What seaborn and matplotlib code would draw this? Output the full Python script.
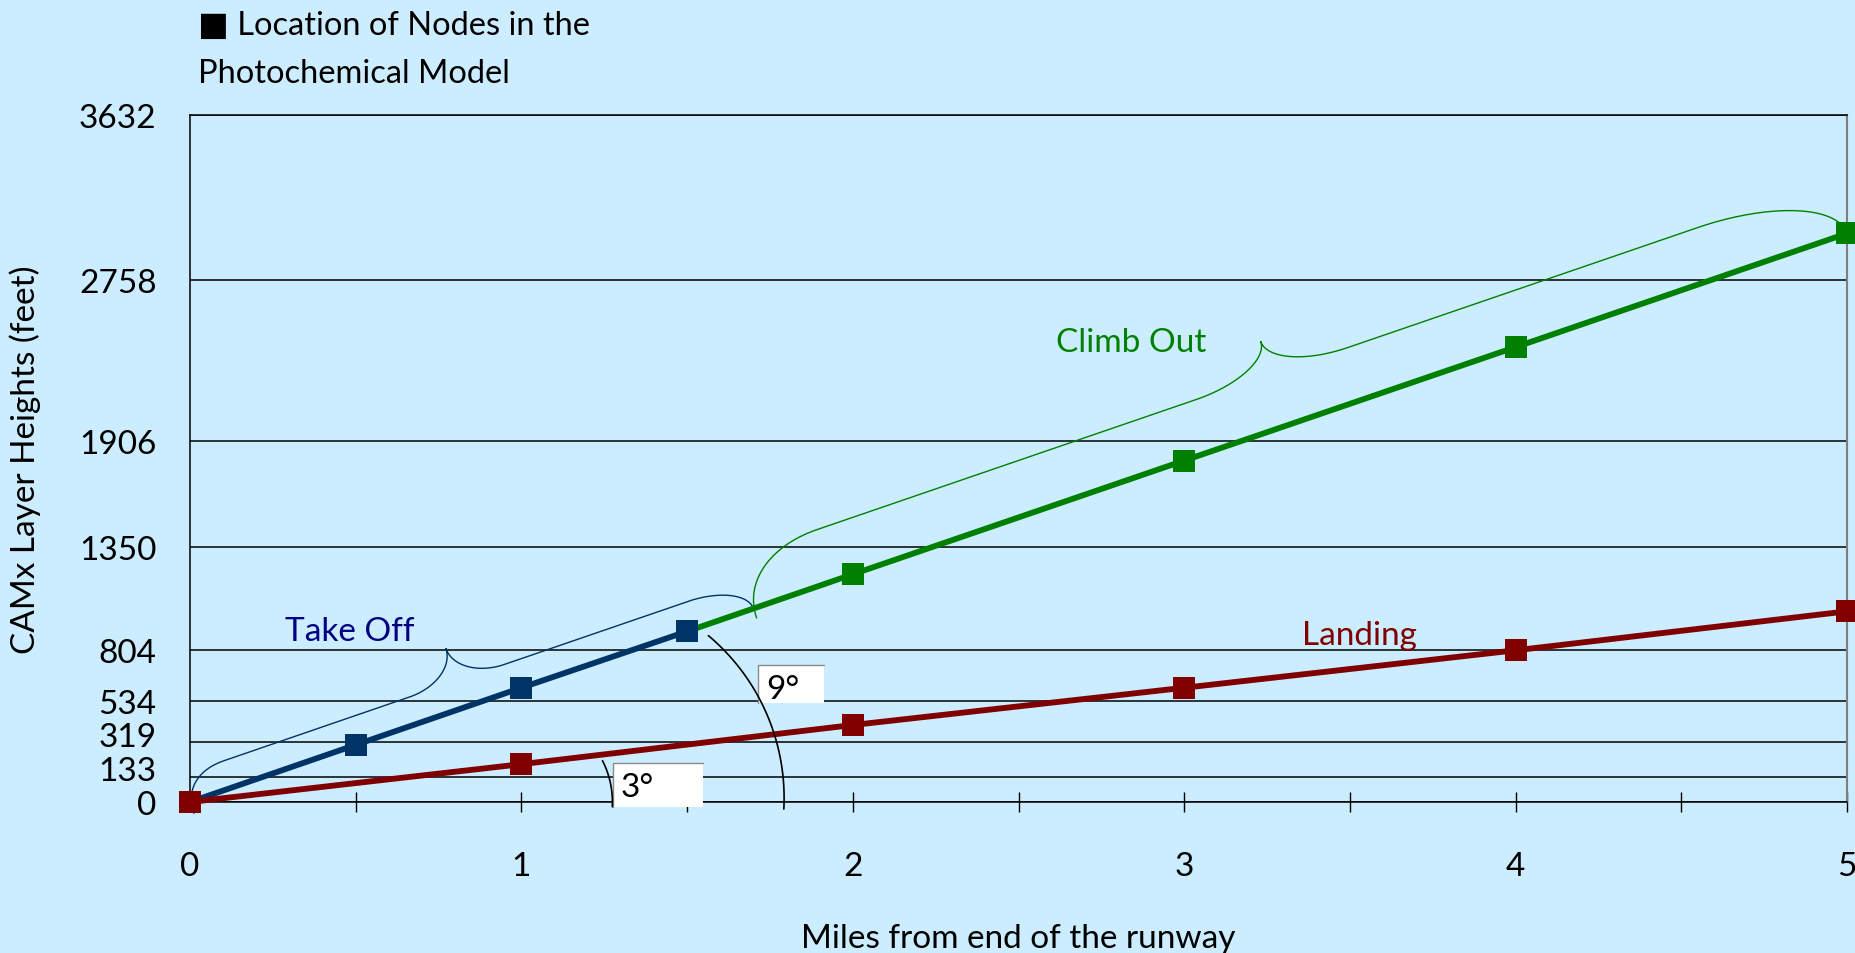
import numpy as np
import pandas as pd
import matplotlib
matplotlib.use('Agg')
import matplotlib.pyplot as plt
from matplotlib.patches import Rectangle
from matplotlib.transforms import ScaledTranslation
import seaborn as sns

# ---------------- data ----------------
takeoff_x = [0, 0.5, 1, 1.5]
takeoff_y = [0, 302, 604, 902]
climb_x = [1.5, 2, 3, 4, 5]
climb_y = [902, 1204, 1805, 2405, 3006]
landing_x = [0, 1, 2, 3, 4, 5]
landing_y = [0, 200, 407, 604, 802, 1008]
layer_ticks = [0, 133, 319, 534, 804, 1350, 1906, 2758, 3632]
mile_ticks = [0, 1, 2, 3, 4, 5]
series_names = ['Climb Out', 'Take Off', 'Landing']
series_colors = ['#008000', '#003366', '#800000']
label_colors = {'Take Off': '#000080', 'Climb Out': '#008000', 'Landing': '#800000'}

BG = '#CCECFF'
sns.set_style('white')
plt.rcParams['font.family'] = ['Lato', 'DejaVu Sans']

df = pd.concat([
    pd.DataFrame({'miles': climb_x, 'feet': climb_y, 'segment': 'Climb Out'}),
    pd.DataFrame({'miles': takeoff_x, 'feet': takeoff_y, 'segment': 'Take Off'}),
    pd.DataFrame({'miles': landing_x, 'feet': landing_y, 'segment': 'Landing'}),
], ignore_index=True)

W, H = 1856, 954
fig = plt.figure(figsize=(W / 100, H / 100), dpi=100, facecolor=BG)
L_, R_, T_, B_ = 190, 1847, 116, 803
ax = fig.add_axes([L_ / W, 1 - B_ / H, (R_ - L_) / W, (B_ - T_) / H])
ax.set_facecolor(BG)
ax.set_xlim(0, 5)
ax.set_ylim(0, 3632)

sns.lineplot(data=df, x='miles', y='feet', hue='segment', hue_order=series_names,
             palette=dict(zip(series_names, series_colors)), estimator=None, sort=False,
             marker='s', markersize=15.5, markeredgewidth=0, linewidth=4.2,
             legend=False, clip_on=False, zorder=3, ax=ax)

# ---------------- axes styling ----------------
ax.set_yticks(layer_ticks)
ax.set_yticklabels([str(v) for v in layer_ticks])
ax.set_xticks(mile_ticks)
ax.set_xticklabels([str(v) for v in mile_ticks])
ax.set_xticks(np.arange(0.5, 5, 1.0), minor=True)
ax.tick_params(axis='y', which='both', length=0, pad=24, labelsize=24, labelcolor='black')
ax.tick_params(axis='x', which='both', direction='inout', length=14.4, width=1.0,
               color='black', pad=28, labelsize=24, labelcolor='black', bottom=True)
ax.yaxis.grid(True, color='black', linewidth=1.1)
ax.xaxis.grid(False)
ax.set_axisbelow(True)
for s in ['left', 'bottom', 'top']:
    ax.spines[s].set_color('black')
    ax.spines[s].set_linewidth(1.1)
ax.spines['right'].set_color('#7f7f7f')
ax.spines['right'].set_linewidth(1.5)

# nudge the two crowded low labels upward a little, as in the original
label_nudge_px = {133: 9, 319: 8}
for tick, val in zip(ax.yaxis.get_major_ticks(), layer_ticks):
    if val in label_nudge_px:
        lab = tick.label1
        lab.set_transform(lab.get_transform() +
                          ScaledTranslation(0, label_nudge_px[val] / 100, fig.dpi_scale_trans))

ax.set_xlabel('Miles from end of the runway', fontsize=24, color='black')
ax.xaxis.set_label_coords(0.5, (B_ - 948) / (B_ - T_))
ax.xaxis.label.set_va('baseline')
ax.set_ylabel('CAMx Layer Heights (feet)', fontsize=24, color='black')
ax.yaxis.set_label_coords((25 - L_) / (R_ - L_), 0.5)
ax.yaxis.label.set_va('center')

fig.text(198 / W, 1 - 35 / H, '\u25A0 Location of Nodes in the', fontsize=23.5, va='baseline', color='black')
fig.text(198 / W, 1 - 83 / H, 'Photochemical Model', fontsize=23.5, va='baseline', color='black')

# ---------------- annotation helpers ----------------
def cubic(p0, p1, p2, p3, n=40):
    t = np.linspace(0, 1, n)[:, None]
    return (1 - t) ** 3 * p0 + 3 * (1 - t) ** 2 * t * p1 + 3 * (1 - t) * t ** 2 * p2 + t ** 3 * p3


def brace(a, b, h, hc, c, r0, r1, rc, e0, color, lw):
    A = ax.transData.transform(a)
    Bp = ax.transData.transform(b)
    d = Bp - A
    Ln = np.hypot(*d)
    eu = d / Ln
    ev = np.array([-eu[1], eu[0]])
    cL = c * Ln
    P = lambda u, v: np.array([u, v], float)
    segs = [
        cubic(P(0, -e0), P(0, 0.55 * h), P(0.45 * r0, h), P(r0, h)),
        np.array([[r0, h], [cL - rc, h]]),
        cubic(P(cL - rc, h), P(cL - 0.45 * rc, h), P(cL, h + 0.45 * (hc - h)), P(cL, hc)),
        cubic(P(cL, hc), P(cL, h + 0.45 * (hc - h)), P(cL + 0.45 * rc, h), P(cL + rc, h)),
        np.array([[cL + rc, h], [Ln - r1, h]]),
        cubic(P(Ln - r1, h), P(Ln - 0.45 * r1, h), P(Ln, 0.55 * h), P(Ln, 0)),
    ]
    uv = np.vstack(segs)
    xy = A + uv[:, :1] * eu + uv[:, 1:2] * ev
    dd = ax.transData.inverted().transform(xy)
    ax.plot(dd[:, 0], dd[:, 1], color=color, lw=lw, clip_on=False, zorder=2)


def arc(center, r, t0, t1):
    C = ax.transData.transform(center)
    t = np.radians(np.linspace(t0, t1, 80))
    xy = C + r * np.c_[np.cos(t), np.sin(t)]
    dd = ax.transData.inverted().transform(xy)
    ax.plot(dd[:, 0], dd[:, 1], color='black', lw=1.2, clip_on=False, zorder=5)


def box(x0, x1, y0, y1):
    ax.add_patch(Rectangle((x0, y0), x1 - x0, y1 - y0, facecolor='white', edgecolor='none',
                           zorder=4, clip_on=False))
    ax.plot([x0, x0, x1], [y0, y1, y1], color='#8a8a8a', lw=1.0, zorder=4, clip_on=False)


split_x = 1.7
split_y = float(np.interp(split_x, climb_x, climb_y))
brace((takeoff_x[0], takeoff_y[0]), (split_x, split_y), h=28, hc=62, c=0.49,
      r0=45, r1=60, rc=50, e0=12, color='#003366', lw=1.0)
brace((split_x, split_y), (climb_x[-1], climb_y[-1]), h=54, hc=88, c=0.49,
      r0=85, r1=140, rc=80, e0=10, color='#008000', lw=1.0)

# angle markers
box(1.276, 1.548, -26, 206)
box(1.714, 1.913, 523, 724)
arc((1.0, 0), 91, -3, 27)
arc((1.153, 21), 212, -3, 50)
ax.text(1.300, 80, '3°', fontsize=24, ha='left', va='center', color='black', zorder=6)
ax.text(1.738, 600, '9°', fontsize=24, ha='left', va='center', color='black', zorder=6)

# segment labels
ax.text(0.483, 904, 'Take Off', fontsize=24, ha='center', va='center', color=label_colors['Take Off'])
ax.text(2.84, 2432, 'Climb Out', fontsize=24, ha='center', va='center', color=label_colors['Climb Out'])
ax.text(3.53, 883, 'Landing', fontsize=24, ha='center', va='center', color=label_colors['Landing'])

fig.savefig('out.png', dpi=100, facecolor=BG)
